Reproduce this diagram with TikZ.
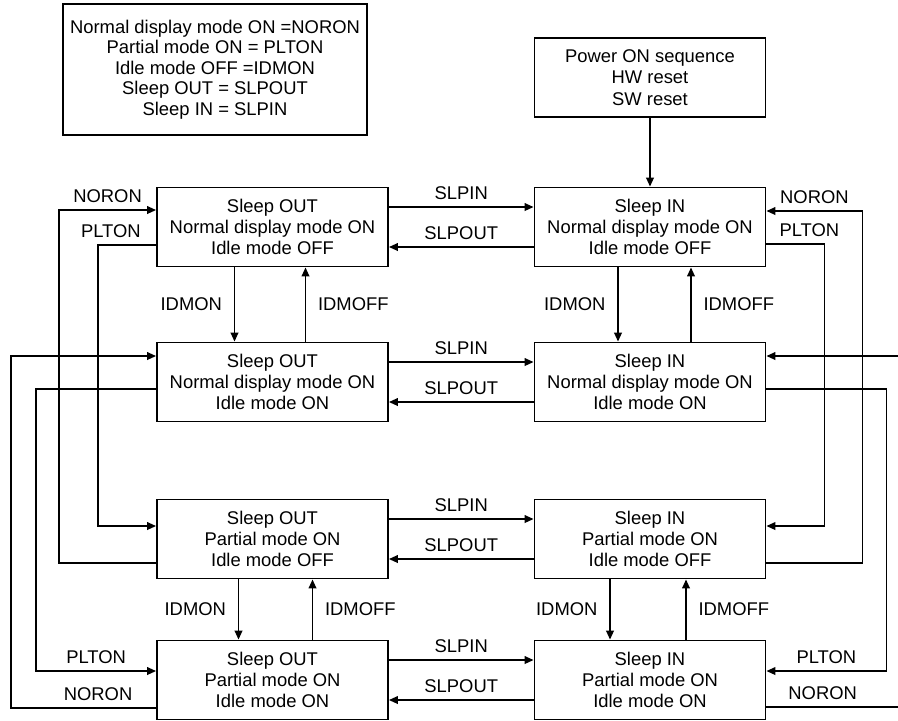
\documentclass[tikz,border=0pt]{standalone}
\usepackage{fontspec}
\setmainfont{Liberation Sans}
\usetikzlibrary{arrows.meta,positioning,calc}

\begin{document}
\begin{tikzpicture}[x=0.5pt,y=-0.5pt,
    state/.style={draw, line width=0.9pt, minimum width=115.5pt, minimum height=39.5pt,
        align=center, inner sep=0pt, font=\fontsize{9.2}{10.7}\selectfont},
    lbl/.style={font=\fontsize{9.2}{10.7}\selectfont},
    wire/.style={line width=0.9pt},
    arr/.style={line width=0.9pt, -{Triangle[length=4.5pt,width=3.8pt]}}]
    \useasboundingbox (0,0) rectangle (898,720);

    % Legend and power on
    \node[state, minimum width=152pt, minimum height=65.5pt, font=\fontsize{9.2}{10.2}\selectfont]
        (legend) at (215,69.5)
        {Normal display mode ON =NORON\\Partial mode ON = PLTON\\Idle mode OFF =IDMON\\Sleep OUT = SLPOUT\\Sleep IN = SLPIN};
    \node[state] (pwr) at (650,77.5) {Power ON sequence\\HW reset\\SW reset};

    % Sleep OUT column
    \node[state] (so1) at (272.5,227) {Sleep OUT\\Normal display mode ON\\Idle mode OFF};
    \node[state] (so2) at (272.5,382) {Sleep OUT\\Normal display mode ON\\Idle mode ON};
    \node[state] (so3) at (272.5,539) {Sleep OUT\\Partial mode ON\\Idle mode OFF};
    \node[state] (so4) at (272.5,680) {Sleep OUT\\Partial mode ON\\Idle mode ON};

    % Sleep IN column
    \node[state] (si1) at (650,227) {Sleep IN\\Normal display mode ON\\Idle mode OFF};
    \node[state] (si2) at (650,382) {Sleep IN\\Normal display mode ON\\Idle mode ON};
    \node[state] (si3) at (650,539) {Sleep IN\\Partial mode ON\\Idle mode OFF};
    \node[state] (si4) at (650,680) {Sleep IN\\Partial mode ON\\Idle mode ON};

    \draw[arr] (pwr.south) -- (si1.north);

    % SLPIN / SLPOUT
    \draw[arr] ([yshift=10pt]so1.east) -- node[lbl,above] {SLPIN} ([yshift=10pt]si1.west);
    \draw[arr] ([yshift=-10pt]si1.west) -- node[lbl,above] {SLPOUT} ([yshift=-10pt]so1.east);
    \draw[arr] ([yshift=10pt]so2.east) -- node[lbl,above] {SLPIN} ([yshift=10pt]si2.west);
    \draw[arr] ([yshift=-10pt]si2.west) -- node[lbl,above] {SLPOUT} ([yshift=-10pt]so2.east);
    \draw[arr] ([yshift=10pt]so3.east) -- node[lbl,above] {SLPIN} ([yshift=10pt]si3.west);
    \draw[arr] ([yshift=-10pt]si3.west) -- node[lbl,above] {SLPOUT} ([yshift=-10pt]so3.east);
    \draw[arr] ([yshift=10pt]so4.east) -- node[lbl,above] {SLPIN} ([yshift=10pt]si4.west);
    \draw[arr] ([yshift=-10pt]si4.west) -- node[lbl,above] {SLPOUT} ([yshift=-10pt]so4.east);

    % IDMON / IDMOFF
    \draw[arr] ([xshift=-19pt]so1.south) -- node[lbl,left=2.5pt] {IDMON} ([xshift=-19pt]so2.north);
    \draw[arr] ([xshift=16.5pt]so2.north) -- node[lbl,right=2.5pt] {IDMOFF} ([xshift=16.5pt]so1.south);
    \draw[arr] ([xshift=-16pt]si1.south) -- node[lbl,left=2.5pt] {IDMON} ([xshift=-16pt]si2.north);
    \draw[arr] ([xshift=20.5pt]si2.north) -- node[lbl,right=2.5pt] {IDMOFF} ([xshift=20.5pt]si1.south);
    \draw[arr] ([xshift=-17pt]so3.south) -- node[lbl,left=2.5pt] {IDMON} ([xshift=-17pt]so4.north);
    \draw[arr] ([xshift=20pt]so4.north) -- node[lbl,right=2.5pt] {IDMOFF} ([xshift=20pt]so3.south);
    \draw[arr] ([xshift=-20pt]si3.south) -- node[lbl,left=2.5pt] {IDMON} ([xshift=-20pt]si4.north);
    \draw[arr] ([xshift=18pt]si4.north) -- node[lbl,right=2.5pt] {IDMOFF} ([xshift=18pt]si3.south);

    % NORON / PLTON, Sleep OUT side
    \draw[arr] ([yshift=-12pt]so3.west) -| ([xshift=-48.5pt,yshift=8.5pt]so1.west)
        -- node[lbl,above] {NORON} ([yshift=8.5pt]so1.west);
    \draw[arr] ([yshift=-9pt]so1.west) -| node[lbl,above,pos=.39] {PLTON}
        ([xshift=-29pt,yshift=6.5pt]so3.west) -- ([yshift=6.5pt]so3.west);
    \draw[arr] ([yshift=-14pt]so4.west) -| node[lbl,above,pos=.2] {NORON}
        ([xshift=-72.5pt,yshift=13pt]so2.west) -- ([yshift=13pt]so2.west);
    \draw[arr] ([yshift=-3.5pt]so2.west) -| ([xshift=-60pt,yshift=4.5pt]so4.west)
        -- node[lbl,above] {PLTON} ([yshift=4.5pt]so4.west);

    % NORON / PLTON, Sleep IN side
    \draw[arr] ([yshift=-12pt]si3.east) -| ([xshift=48pt,yshift=8pt]si1.east)
        -- node[lbl,above] {NORON} ([yshift=8pt]si1.east);
    \draw[arr] ([yshift=-8.5pt]si1.east) -| node[lbl,above,pos=.37] {PLTON}
        ([xshift=29pt,yshift=6.5pt]si3.east) -- ([yshift=6.5pt]si3.east);
    \draw[arr] ([yshift=-3.5pt]si2.east) -| ([xshift=60pt,yshift=4.5pt]si4.east)
        -- node[lbl,above] {PLTON} ([yshift=4.5pt]si4.east);
    \coordinate (edgeIn) at ([xshift=67pt,yshift=13pt]si2.east);
    \coordinate (edgeOut) at ([xshift=67pt,yshift=-13.5pt]si4.east);
    \draw[arr] (edgeIn) -- ([yshift=13pt]si2.east);
    \draw[wire] ([yshift=-13.5pt]si4.east) -- node[lbl,above,pos=.42] {NORON} (edgeOut);
\end{tikzpicture}
\end{document}
